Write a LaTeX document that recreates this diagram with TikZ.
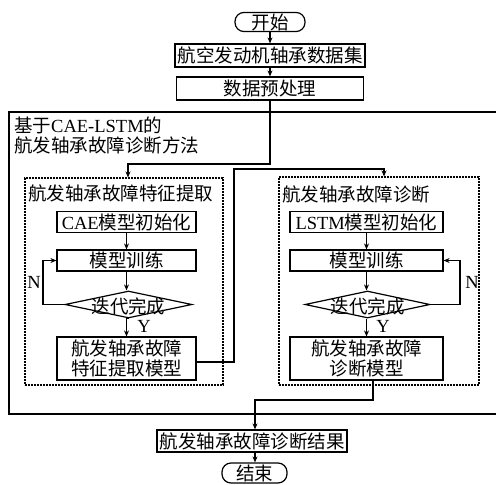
\documentclass[tikz,border=0pt]{standalone}
\usepackage{fontspec}
\setmainfont{Noto Sans CJK SC}
\newfontfamily\lat{Liberation Serif}
\usetikzlibrary{shapes.geometric,arrows.meta,calc}
\begin{document}
\begin{tikzpicture}[x=1pt,y=-1pt,
 every node/.style={font=\fontsize{18.5pt}{20pt}\selectfont, inner sep=1pt},
 box/.style={draw, line width=1.2pt, minimum height=21pt},
 pill/.style={draw, line width=1.2pt, rounded corners=9pt, minimum height=19pt},
 dbox/.style={draw, line width=1.1pt, dash pattern=on 2pt off 1pt, minimum width=198pt, minimum height=207pt},
 dia/.style={draw, diamond, line width=1.2pt, inner sep=0pt, minimum height=27pt},
 arr/.style={line width=1.2pt, -{Stealth[length=6pt,width=5pt]}},
 ln/.style={line width=1.2pt}]
\useasboundingbox (0,0) rectangle (496,485);

% top part
\node[pill, minimum width=70pt] (start) at (270,22) {开始};
\node[box, minimum width=190pt, minimum height=23pt] (data) at (270,55.5) {航空发动机轴承数据集};
\node[box, minimum width=187pt, minimum height=23pt] (pre) at (270,88.5) {数据预处理};

% outer frame
\draw[ln] (9,112) rectangle (505,414);
\node[anchor=north west, align=left, inner sep=0pt] (olab) at (14,117) {基于{\lat CAE-LSTM}的\\航发轴承故障诊断方法};

% dashed frames
\node[dbox] (ldash) at (124,281.5) {};
\node[dbox, minimum width=200pt, minimum height=208pt] (rdash) at (379,281) {};
\node[anchor=west] (ltit) at (27,193) {航发轴承故障特征提取};
\node[anchor=west] (rtit) at (281,194) {航发轴承故障诊断};

% left column
\node[box, minimum width=139pt] (cae) at (126.5,222) {{\lat CAE}模型初始化};
\node[box, minimum width=139pt] (ltrain) at (126.5,260.5) {模型训练};
\node[dia, minimum width=127pt] (ldia) at (128.5,304.5) {};
\node (ldiat) at (128.5,306) {迭代完成};
\node[box, minimum width=139pt, minimum height=43pt, align=center] (lmodel) at (126.5,358.5) {航发轴承故障\\特征提取模型};
\node (ln1) at (34,282) {\lat N};
\node (ly) at (144,326) {\lat Y};

% right column
\node[box, minimum width=153pt] (lstm) at (366.5,222) {{\lat LSTM}模型初始化};
\node[box, minimum width=153pt] (rtrain) at (366.5,260.5) {模型训练};
\node[dia, minimum width=125pt] (rdia) at (367.5,304.5) {};
\node (rdiat) at (367.5,306) {迭代完成};
\node[box, minimum width=153pt, minimum height=43pt, align=center] (rmodel) at (366.5,358.5) {航发轴承故障\\诊断模型};
\node (rn1) at (472,282) {\lat N};
\node (ry) at (383,326) {\lat Y};

% bottom
\node[box, minimum width=190pt, minimum height=22pt] (result) at (252,441) {航发轴承故障诊断结果};
\node[pill, minimum width=65pt, minimum height=20pt] (end) at (254.5,473) {结束};

% coordinates
\coordinate (c1) at (128,164);
\coordinate (c2) at (234,169);
\coordinate (c3) at (384,169);
\coordinate (c4) at (255,400);
\coordinate (cl) at (43,304.5);
\coordinate (cr) at (460,304.5);

% connectors
\draw[arr] (start) -- (data);
\draw[arr] (data) -- (pre);
\draw[arr] (pre.south) |- (c1) -- (c1 |- ldash.north);
\draw[arr] ($(lmodel.east)+(0,3.5)$) -| (c2) -- (c3) -- (c3 |- rdash.north);
\draw[arr] (cae) -- (cae |- ltrain.north);
\draw[arr] (ltrain.south) -- (ltrain.south |- ldia.north);
\draw[arr] (ldia.south) -- (ldia.south -| lmodel) -- (lmodel.north);
\draw[arr] (ldia.west) -- (cl) |- (ltrain.west);
\draw[arr] (lstm) -- (rtrain);
\draw[arr] (rtrain.south) -- (rtrain.south |- rdia.north);
\draw[arr] (rdia.south -| rmodel) -- (rmodel.north);
\draw[arr] (rdia.east) -- (cr) |- (rtrain.east);
\draw[arr] ($(rmodel.south)+(6.5,0)$) |- (c4) -- (c4 |- result.north);
\draw[arr] (c4 |- result.south) -- (c4 |- end.north);
\end{tikzpicture}
\end{document}
